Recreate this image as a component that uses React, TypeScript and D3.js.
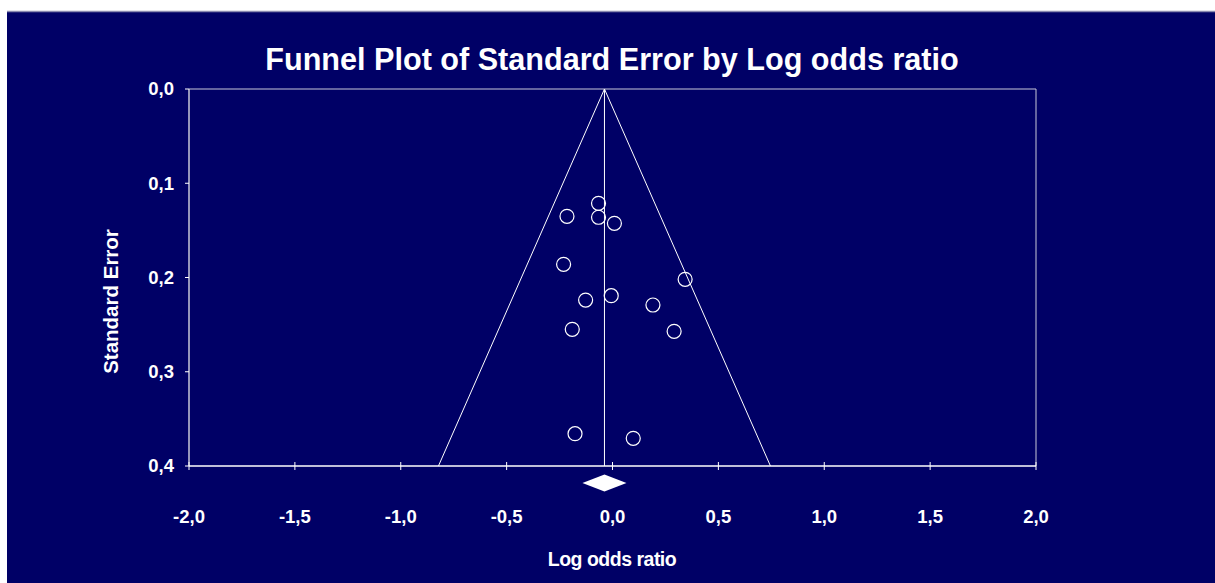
import React from 'react'
import * as d3 from 'd3'

// study estimates read off the funnel
const logOdds = [-0.066, -0.215, -0.066, 0.009, -0.231, 0.343, -0.006, -0.127, 0.191, -0.19, 0.291, -0.177, 0.098]
const stdErr = [0.1213, 0.1351, 0.1361, 0.1425, 0.186, 0.2019, 0.2193, 0.2239, 0.2292, 0.255, 0.2571, 0.3657, 0.3706]

// pooled estimate and its interval (the diamond)
const pooled = [-0.038]
const pooledCI = [-0.142, 0.066]

const xTicks = [-2, -1.5, -1, -0.5, 0, 0.5, 1, 1.5, 2]
const yTicks = [0, 0.1, 0.2, 0.3, 0.4]

const W = 1215
const H = 583
const navy = '#000066'
const font = '"Liberation Sans", Arial, sans-serif'

const fmt = (v: number) => d3.format('.1f')(v).replace('.', ',').replace('−', '-')

export default function App() {
  const x = d3.scaleLinear().domain([-2, 2]).range([189, 1036])
  const y = d3.scaleLinear().domain([0, 0.4]).range([89, 466])

  const est = pooled[0]
  const seMax = 0.4
  const funnel = d3.line<[number, number]>()
    .x(d => x(d[0]))
    .y(d => y(d[1]))([
      [est - 1.96 * seMax, seMax],
      [est, 0],
      [est + 1.96 * seMax, seMax]
    ])

  const dy = 483
  const dh = 8.5
  const diamond = d3.line<[number, number]>()
    .x(d => d[0])
    .y(d => d[1])([
      [x(pooledCI[0]), dy],
      [x(est), dy - dh],
      [x(pooledCI[1]), dy],
      [x(est), dy + dh]
    ]) + 'Z'

  return (
    <svg width={W} height={H} style={{ position: 'absolute', left: 0, top: 0 }} fontFamily={font}>
      <rect x={0} y={0} width={W} height={H} fill="#ffffff" />
      <rect x={7} y={11} width={W - 7} height={H - 11} fill={navy} />
      <line x1={7} x2={W} y1={11.5} y2={11.5} stroke="#8a8ab0" strokeWidth={1.5} />

      <text x={612} y={70} textAnchor="middle" fill="#fff" fontSize={30.6} fontWeight="bold">
        Funnel Plot of Standard Error by Log odds ratio
      </text>

      {/* plot frame */}
      <line x1={x(-2)} x2={x(2)} y1={y(0)} y2={y(0)} stroke="#c8c8d8" strokeWidth={1} />
      <line x1={x(2)} x2={x(2)} y1={y(0)} y2={y(0.4)} stroke="#c8c8d8" strokeWidth={1} />
      <line x1={x(-2)} x2={x(-2)} y1={y(0)} y2={y(0.4)} stroke="#c8c8d8" strokeWidth={1.5} />
      <line x1={x(-2)} x2={x(2)} y1={y(0.4)} y2={y(0.4)} stroke="#fff" strokeWidth={1.5} />

      {yTicks.map(t => (
        <g key={'y' + t}>
          <line x1={x(-2) - 4} x2={x(-2)} y1={y(t)} y2={y(t)} stroke="#fff" strokeWidth={1} />
          <text x={174} y={y(t)} dy="0.35em" textAnchor="end" fill="#fff" fontSize={18.5} fontWeight="bold">
            {fmt(t)}
          </text>
        </g>
      ))}

      {xTicks.map(t => (
        <g key={'x' + t}>
          <line x1={x(t)} x2={x(t)} y1={y(0.4) - 4} y2={y(0.4) + 4} stroke="#fff" strokeWidth={1} />
          <text x={x(t)} y={523} textAnchor="middle" fill="#fff" fontSize={18.5} fontWeight="bold">
            {fmt(t)}
          </text>
        </g>
      ))}

      <text x={612} y={566} textAnchor="middle" fill="#fff" fontSize={19.5} fontWeight="bold" letterSpacing={-0.5}>
        Log odds ratio
      </text>
      <text transform={`translate(118,${301.5}) rotate(-90)`} textAnchor="middle" fill="#fff" fontSize={20.5} fontWeight="bold">
        Standard Error
      </text>

      <path d={funnel || ''} fill="none" stroke="#fff" strokeWidth={1} />
      <line x1={x(est)} x2={x(est)} y1={y(0)} y2={y(0.4)} stroke="#fff" strokeWidth={1} />

      {logOdds.map((v, i) => (
        <circle key={i} cx={x(v)} cy={y(stdErr[i])} r={7} fill="none" stroke="#fff" strokeWidth={1.2} />
      ))}

      <path d={diamond} fill="#fff" />
    </svg>
  )
}
